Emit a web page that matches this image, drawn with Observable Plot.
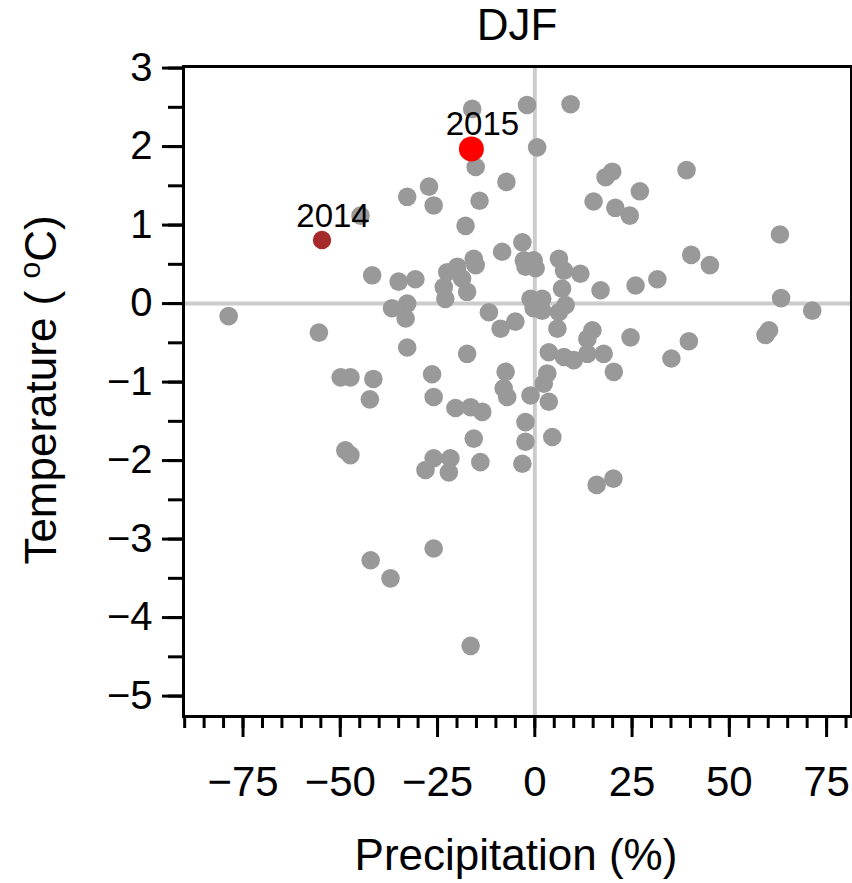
<!DOCTYPE html>
<html><head><meta charset="utf-8">
<script src="https://cdn.jsdelivr.net/npm/d3@7"></script>
<script src="https://cdn.jsdelivr.net/npm/@observablehq/plot@0.6"></script>
<style>html,body{margin:0;padding:0;background:#fff;overflow:hidden} svg{display:block}</style>
</head><body><div id="chart"></div>
<script>
// Gray points: DJF precipitation anomaly (%) and temperature anomaly (°C)
const precip = [-78.7,-55.5,-16.1,-2.0,9.2,0.6,-15.2,-27.2,-32.8,-26.0,-7.3,-14.2,-17.8,-44.8,-41.8,-35.0,-30.7,-22.5,-19.9,-15.2,
  -15.7,-23.4,-18.7,-17.4,-23.0,-3.2,-8.4,-2.8,-0.3,0.2,-2.4,6.2,7.5,11.7,7.0,16.9,25.9,31.5,-1.1,1.9,
  -0.3,1.9,7.9,6.2,-11.8,-5.0,-8.8,5.8,14.8,13.5,24.6,-17.4,3.6,7.5,10.0,13.5,17.7,20.3,-7.5,-8.0,
  -7.1,3.2,2.3,-1.1,3.6,-20.4,-16.5,-13.5,-2.4,-15.7,-2.4,4.5,-21.7,-14.0,-3.2,-26.0,-28.1,-22.1,-36.7,-32.8,
  -33.2,-32.8,-49.9,-47.4,-41.5,-26.4,-42.4,-26.0,-48.7,-47.4,-42.2,-37.1,-26.0,-16.5,15.9,20.2,18.2,19.9,39.0,27.0,
  15.1,20.7,24.4,63.0,40.2,45.0,63.3,71.3,60.2,59.3,39.6,35.1];
const temp = [-0.16,-0.37,2.48,2.53,2.54,1.99,1.74,1.49,1.36,1.25,1.55,1.31,0.99,1.12,0.36,0.28,0.31,0.40,0.47,0.49,
  0.57,0.21,0.32,0.15,0.06,0.78,0.66,0.55,0.55,0.45,0.47,0.57,0.42,0.38,0.19,0.17,0.23,0.31,0.06,0.06,
  -0.06,-0.09,-0.02,-0.11,-0.11,-0.23,-0.32,-0.32,-0.34,-0.45,-0.43,-0.64,-0.62,-0.68,-0.72,-0.64,-0.64,-0.87,-0.87,-1.08,
  -1.19,-0.89,-1.02,-1.17,-1.25,-1.33,-1.32,-1.38,-1.51,-1.72,-1.76,-1.70,-1.97,-2.02,-2.04,-1.97,-2.12,-2.15,-0.06,0.0,
  -0.19,-0.56,-0.94,-0.94,-0.96,-0.90,-1.22,-1.19,-1.87,-1.93,-3.27,-3.50,-3.12,-4.36,-2.31,-2.23,1.61,1.68,1.70,1.43,
  1.30,1.22,1.12,0.88,0.62,0.49,0.07,-0.09,-0.34,-0.40,-0.48,-0.70];

// Highlighted years
const highlightYears = ["2014", "2015"];
const highlightPrecip = [-54.7, -16.3];
const highlightTemp = [0.81, 1.97];
const highlightColors = ["#a52a2a", "#ff0000"];
const highlightRadius = [9.2, 12.5];

// Ticks
const xMajorTicks = [-75, -50, -25, 0, 25, 50, 75];
const xMinorTicks = d3.range(-90, 81, 5);
const yMajorTicks = [-5, -4, -3, -2, -1, 0, 1, 2, 3];
const yMinorTicks = d3.range(-5, 3.01, 0.5);

const titleText = "DJF";
const xTitle = "Precipitation (%)";

const points = precip.map((p, i) => ({p, t: temp[i]}));
const highlights = highlightYears.map((yr, i) => ({yr, p: highlightPrecip[i], t: highlightTemp[i], c: highlightColors[i], r: highlightRadius[i]}));

const chart = Plot.plot({
  width: 852,
  height: 883,
  marginLeft: 183,
  marginRight: 1,
  marginTop: 66,
  marginBottom: 167,
  style: {fontFamily: "'Liberation Sans', Arial, Helvetica, sans-serif", background: "white", color: "black"},
  x: {domain: [-90.3, 81.4], label: null},
  y: {domain: [-5.26, 3.02], label: null},
  r: {type: "identity"},
  marks: [
    Plot.ruleX([0], {stroke: "#cccccc", strokeWidth: 4}),
    Plot.ruleY([0], {stroke: "#cccccc", strokeWidth: 4}),
    Plot.dot(points, {x: "p", y: "t", r: 9.3, fill: "#999999", stroke: "none"}),
    Plot.dot(highlights, {x: "p", y: "t", r: "r", fill: "c", stroke: "none"}),
    Plot.text(highlights, {x: "p", y: "t", text: "yr", dx: 11, dy: -24, fontSize: 33, fill: "black"}),
    Plot.frame({stroke: "black", strokeWidth: 3}),
    Plot.axisX(xMinorTicks, {tickSize: 12, strokeWidth: 3, fill: "none", label: null}),
    Plot.axisX(xMajorTicks, {tickSize: 21, tickPadding: 29, strokeWidth: 3, fontSize: 42, tickFormat: "d", label: null}),
    Plot.axisY(yMinorTicks, {tickSize: 15, strokeWidth: 3, fill: "none", label: null}),
    Plot.axisY(yMajorTicks, {tickSize: 21, tickPadding: 10, strokeWidth: 3, fontSize: 40, tickFormat: "d", label: null})
  ]
});

const svg = d3.select(chart);
svg.append("text")
  .attr("x", 517).attr("y", 40)
  .attr("text-anchor", "middle").attr("font-size", 44).attr("fill", "black")
  .text(titleText);
svg.append("text")
  .attr("x", 516).attr("y", 870)
  .attr("text-anchor", "middle").attr("font-size", 44).attr("fill", "black")
  .text(xTitle);
const yt = svg.append("text")
  .attr("transform", "translate(56,390) rotate(-90)")
  .attr("text-anchor", "middle").attr("font-size", 44).attr("fill", "black");
yt.append("tspan").text("Temperature ( ");
yt.append("tspan").attr("font-size", 30).attr("dy", -16).text("o");
yt.append("tspan").attr("dy", 16).text("C)");

document.getElementById("chart").appendChild(chart);
</script>
</body></html>
